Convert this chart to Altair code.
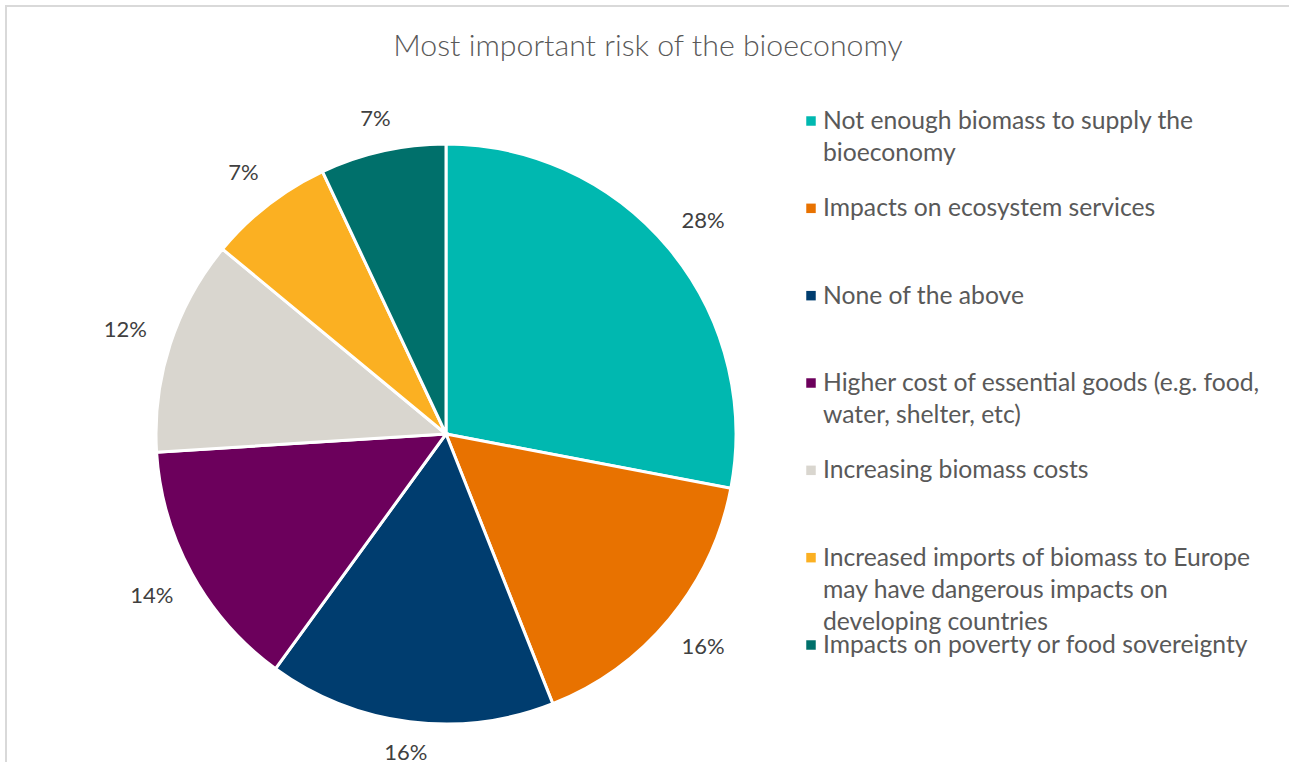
import altair as alt
import pandas as pd

# Survey answers: most important risk of the bioeconomy (share of respondents, %)
categories = [
    "Not enough biomass to supply the\nbioeconomy",
    "Impacts on ecosystem services",
    "None of the above",
    "Higher cost of essential goods (e.g. food,\nwater, shelter, etc)",
    "Increasing biomass costs",
    "Increased imports of biomass to Europe\nmay have dangerous impacts on\ndeveloping countries",
    "Impacts on poverty or food sovereignty",
]
shares = [28, 16, 16, 14, 12, 7, 7]
palette = ["#00B8B0", "#E87200", "#003D6F", "#6C005C", "#D9D6CF", "#FBB022", "#00706B"]

df = pd.DataFrame({"cat": categories, "value": shares, "idx": list(range(len(shares)))})

FONT = "Lato"
CX, CY, R = 446, 434, 290

color = alt.Color("cat:N", scale=alt.Scale(domain=categories, range=palette), legend=None)

pie = alt.Chart(df).mark_arc(outerRadius=R, stroke="white", strokeWidth=3).encode(
    theta=alt.Theta("value:Q", stack=True),
    order=alt.Order("idx:Q"),
    color=color,
    x=alt.value(CX),
    y=alt.value(CY),
)

# Percent labels placed just outside each slice, at the slice's middle angle
pct = (
    alt.Chart(df)
    .transform_window(cum="sum(value)", sort=[alt.SortField("idx")])
    .transform_joinaggregate(total="sum(value)")
    .transform_calculate(
        mid="2*PI*(datum.cum - datum.value/2)/datum.total",
        rad="319 + 19*abs(sin(datum.mid))",
        lab="datum.value + '%'",
    )
    .mark_text(font=FONT, fontSize=22, color="#404040", align="center", baseline="middle")
    .encode(
        text="lab:N",
        theta=alt.Theta("mid:Q", scale=None),
        radius=alt.Radius("rad:Q", scale=None),
        x=alt.value(CX),
        y=alt.value(CY),
    )
)

# Legend on the right: squares and wrapped labels
ypos = alt.Y("idx:O", scale=alt.Scale(type="point", range=[121, 645], padding=0), axis=None)
leg_sq = alt.Chart(df).mark_square(size=90, opacity=1).encode(
    x=alt.value(811), y=ypos, color=color
)
leg_txt = alt.Chart(df).mark_text(
    font=FONT, fontSize=24.7, color="#595959", align="left", baseline="alphabetic",
    dy=8, lineBreak="\n", lineHeight=32,
).encode(x=alt.value(823), y=ypos, text="cat:N")

title = alt.Chart(df).transform_filter("datum.idx == 0").mark_text(
    text="Most important risk of the bioeconomy",
    font=FONT, fontSize=30.3, fontWeight=300, color="#595959",
    align="center", baseline="middle",
).encode(x=alt.value(648), y=alt.value(47))

# Outer frame (top and left edges)
frame_top = alt.Chart(df).transform_filter("datum.idx == 0").mark_rule(
    color="#D9D9D9", strokeWidth=2
).encode(x=alt.value(5), x2=alt.value(1289), y=alt.value(6))
frame_left = alt.Chart(df).transform_filter("datum.idx == 0").mark_rule(
    color="#D9D9D9", strokeWidth=2
).encode(x=alt.value(6), y=alt.value(5), y2=alt.value(762))

chart = (
    alt.layer(frame_top, frame_left, pie, pct, leg_sq, leg_txt, title)
    .properties(width=1289, height=762, autosize="none", padding=0, background="white")
    .configure_view(stroke=None)
)

chart.save("out.html", embed_options={"renderer": "svg", "actions": False})
